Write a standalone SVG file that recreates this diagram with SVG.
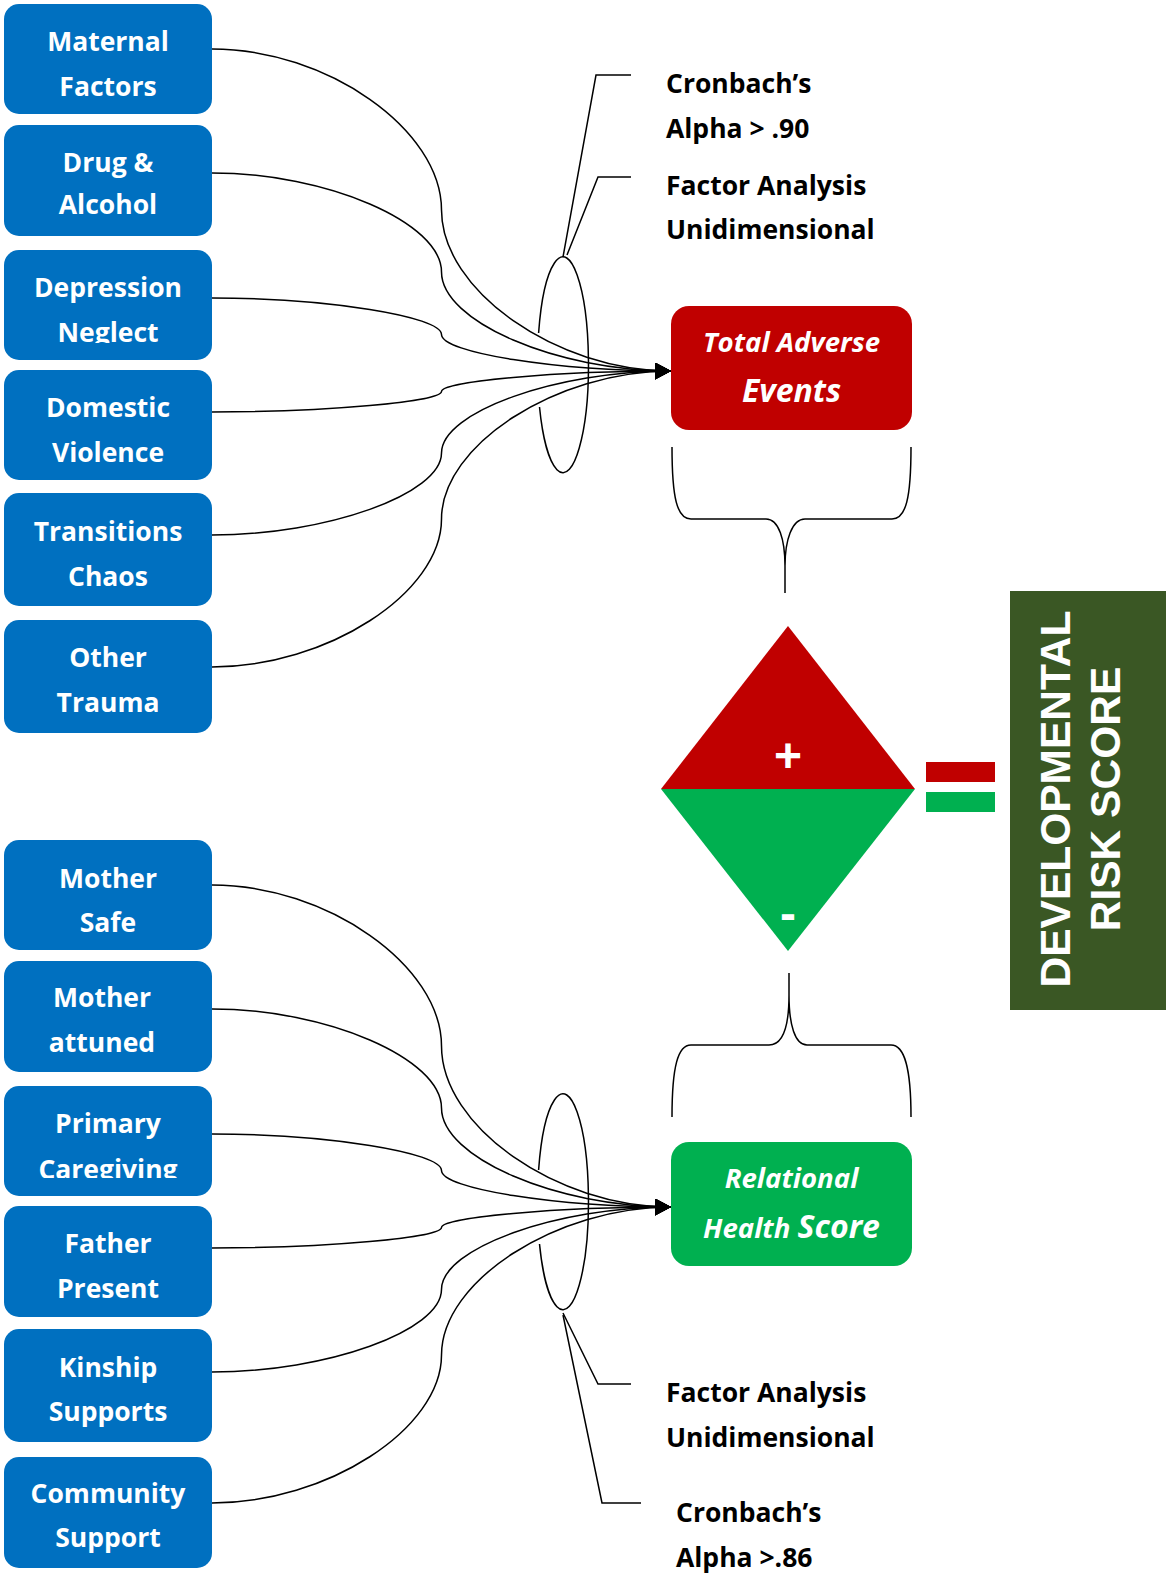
<svg xmlns="http://www.w3.org/2000/svg" width="1168" height="1585" viewBox="0 0 1168 1585">
<style>
.box{fill:#0070C0}
.bt{font-family:"Open Sans",Lato,"Liberation Sans",sans-serif;font-weight:bold;font-size:26.5px;fill:#fff;text-anchor:middle}
.ct{font-family:"Open Sans",Lato,"Liberation Sans",sans-serif;font-weight:bold;font-size:26.5px;fill:#000}
.it{font-family:"Open Sans",Lato,"Liberation Sans",sans-serif;font-weight:bold;font-style:italic;fill:#fff;text-anchor:middle}
.ln{fill:none;stroke:#000;stroke-width:1.5}
.dv{font-family:"Liberation Sans",Arial,sans-serif;font-weight:bold;font-size:42.5px;fill:#fff;text-anchor:middle}
.sg{font-family:"Liberation Sans",Arial,sans-serif;font-weight:bold;font-size:48px;fill:#fff;text-anchor:middle}
</style>
<defs>
<marker id="arr" markerUnits="userSpaceOnUse" markerWidth="17" markerHeight="17" viewBox="0 0 17 17" refX="16" refY="8.5" orient="auto">
<path d="M0,0 L16,8.5 L0,17 z" fill="#000"/>
</marker>
<clipPath id="clipDep"><rect x="4" y="250" width="208" height="93"/></clipPath>
<clipPath id="clipPri"><rect x="4" y="1086" width="208" height="92"/></clipPath>
</defs>

<g id="connectors">
<path class="ln" marker-end="url(#arr)" d="M212,49 C326.75,49 441.5,129.5 441.5,210 C441.5,290.5 556.25,371 671,371"/>
<path class="ln" marker-end="url(#arr)" d="M212,173 C326.75,173 441.5,222.5 441.5,272 C441.5,321.5 556.25,371 671,371"/>
<path class="ln" marker-end="url(#arr)" d="M212,298 C326.75,298 441.5,316.25 441.5,334.5 C441.5,352.75 556.25,371 671,371"/>
<path class="ln" marker-end="url(#arr)" d="M212,412 C326.75,412 441.5,401.75 441.5,391.5 C441.5,381.25 556.25,371 671,371"/>
<path class="ln" marker-end="url(#arr)" d="M212,535 C326.75,535 441.5,494 441.5,453 C441.5,412 556.25,371 671,371"/>
<path class="ln" marker-end="url(#arr)" d="M212,667 C326.75,667 441.5,593 441.5,519 C441.5,445 556.25,371 671,371"/>

<path class="ln" marker-end="url(#arr)" d="M212,885 C326.75,885 441.5,965.5 441.5,1046 C441.5,1126.5 556.25,1207 671,1207"/>
<path class="ln" marker-end="url(#arr)" d="M212,1009 C326.75,1009 441.5,1058.5 441.5,1108 C441.5,1157.5 556.25,1207 671,1207"/>
<path class="ln" marker-end="url(#arr)" d="M212,1134 C326.75,1134 441.5,1152.25 441.5,1170.5 C441.5,1188.75 556.25,1207 671,1207"/>
<path class="ln" marker-end="url(#arr)" d="M212,1248 C326.75,1248 441.5,1237.75 441.5,1227.5 C441.5,1217.25 556.25,1207 671,1207"/>
<path class="ln" marker-end="url(#arr)" d="M212,1372 C326.75,1372 441.5,1330.75 441.5,1289.5 C441.5,1248.25 556.25,1207 671,1207"/>
<path class="ln" marker-end="url(#arr)" d="M212,1503 C326.75,1503 441.5,1429 441.5,1355 C441.5,1281 556.25,1207 671,1207"/>

<path class="ln" d="M538.6,333 A25.5,108 0 1 1 539.5,407"/>
<path class="ln" d="M538.6,1170 A25.5,108 0 1 1 539.5,1244"/>

<path class="ln" d="M563,257 L596,75 L631,75"/>
<path class="ln" d="M567,255 L598,177 L631,177"/>
<path class="ln" d="M563,1313 L598,1384 L631,1384"/>
<path class="ln" d="M563,1315 L602,1503 L641,1503"/>

<path class="ln" d="M672,447 C672,498 677,519 691,519 L766,519 C779,519 785,540 785,566 L785,593 M911,447 C911,498 906,519 892,519 L805,519 C792,519 785,540 785,566"/>
<path class="ln" d="M789,973 L789,995 C789,1025 783,1045 769,1045 L691,1045 C678,1045 672,1066 672,1117 M789,995 C789,1025 795,1045 807,1045 L891,1045 C904,1045 911,1066 911,1117"/>
</g>

<g id="n-maternal"><rect class="box" x="4" y="4" width="208" height="110" rx="15"/><text class="bt" x="108" y="51">Maternal</text><text class="bt" x="108" y="96">Factors</text></g>
<g id="n-drug"><rect class="box" x="4" y="125" width="208" height="111" rx="15"/><text class="bt" x="108" y="172">Drug &amp;</text><text class="bt" x="108" y="214">Alcohol</text></g>
<g id="n-depression"><rect class="box" x="4" y="250" width="208" height="110" rx="15"/><g clip-path="url(#clipDep)"><text class="bt" x="108" y="297">Depression</text><text class="bt" x="108" y="342">Neglect</text></g></g>
<g id="n-domestic"><rect class="box" x="4" y="370" width="208" height="110" rx="15"/><text class="bt" x="108" y="417">Domestic</text><text class="bt" x="108" y="462">Violence</text></g>
<g id="n-transitions"><rect class="box" x="4" y="493" width="208" height="113" rx="15"/><text class="bt" x="108" y="541">Transitions</text><text class="bt" x="108" y="586">Chaos</text></g>
<g id="n-other"><rect class="box" x="4" y="620" width="208" height="113" rx="15"/><text class="bt" x="108" y="667">Other</text><text class="bt" x="108" y="712">Trauma</text></g>

<g id="n-mothersafe"><rect class="box" x="4" y="840" width="208" height="110" rx="15"/><text class="bt" x="108" y="888">Mother</text><text class="bt" x="108" y="932">Safe</text></g>
<g id="n-motherattuned"><rect class="box" x="4" y="961" width="208" height="111" rx="15"/><text class="bt" x="102" y="1007">Mother</text><text class="bt" x="102" y="1052">attuned</text></g>
<g id="n-primary"><rect class="box" x="4" y="1086" width="208" height="110" rx="15"/><g clip-path="url(#clipPri)"><text class="bt" x="108" y="1133">Primary</text><text class="bt" x="108" y="1179">Caregiving</text></g></g>
<g id="n-father"><rect class="box" x="4" y="1206" width="208" height="111" rx="15"/><text class="bt" x="108" y="1253">Father</text><text class="bt" x="108" y="1298">Present</text></g>
<g id="n-kinship"><rect class="box" x="4" y="1329" width="208" height="113" rx="15"/><text class="bt" x="108" y="1377">Kinship</text><text class="bt" x="108" y="1421">Supports</text></g>
<g id="n-community"><rect class="box" x="4" y="1457" width="208" height="111" rx="15"/><text class="bt" x="108" y="1503">Community</text><text class="bt" x="108" y="1547">Support</text></g>

<g id="n-total"><rect x="671" y="306" width="241" height="124" rx="18" fill="#C00000"/><text class="it" x="791.5" y="352" font-size="27.6">Total Adverse</text><text class="it" x="791.5" y="402" font-size="32">Events</text></g>
<g id="n-relational"><rect x="671" y="1142" width="241" height="124" rx="18" fill="#00B050"/><text class="it" x="791.5" y="1188" font-size="27.6">Relational</text><text class="it" x="791.5" y="1238"><tspan font-size="27.6">Health </tspan><tspan font-size="32">Score</tspan></text></g>

<g id="n-callouts">
<text class="ct" x="666" y="93">Cronbach’s</text>
<text class="ct" x="666" y="138">Alpha &gt; .90</text>
<text class="ct" x="666" y="195">Factor Analysis</text>
<text class="ct" x="666" y="239">Unidimensional</text>
<text class="ct" x="666" y="1402">Factor Analysis</text>
<text class="ct" x="666" y="1447">Unidimensional</text>
<text class="ct" x="676" y="1522">Cronbach’s</text>
<text class="ct" x="676" y="1567">Alpha &gt;.86</text>
</g>

<g id="n-diamond">
<polygon points="788,626 915,789 661,789" fill="#C00000"/>
<polygon points="661,789 915,789 788,951" fill="#00B050"/>
<text class="sg" x="788" y="772">+</text>
<text class="sg" x="788" y="930">-</text>
</g>

<g id="n-equals">
<rect x="926" y="762" width="69" height="20" fill="#C00000"/>
<rect x="926" y="792" width="69" height="20" fill="#00B050"/>
</g>

<g id="n-devrisk">
<rect x="1010" y="591" width="156" height="419" fill="#3A5724"/>
<text class="dv" transform="translate(1070,799) rotate(-90)">DEVELOPMENTAL</text>
<text class="dv" transform="translate(1120,799) rotate(-90)">RISK SCORE</text>
</g>
</svg>
